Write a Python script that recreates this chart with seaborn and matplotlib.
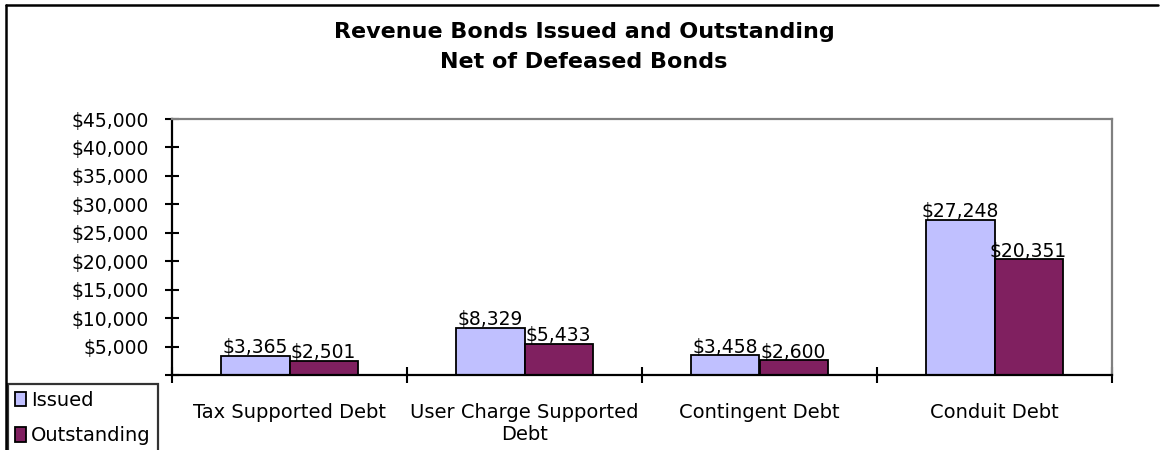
import pandas as pd
import numpy as np
import matplotlib.pyplot as plt
import seaborn as sns
from matplotlib.lines import Line2D
from matplotlib.ticker import FuncFormatter, FixedLocator

# data
categories = ['Tax Supported Debt', 'User Charge Supported\nDebt',
              'Contingent Debt', 'Conduit Debt']
issued = [3365, 8329, 3458, 27248]
outstanding = [2501, 5433, 2600, 20351]
series = ['Issued', 'Outstanding']
colors = ['#C0C0FF', '#802060']

# long table for seaborn
df = pd.DataFrame({
    'category': categories * 2,
    'value': issued + outstanding,
    'series': [series[0]] * len(categories) + [series[1]] * len(categories),
})

sns.set_style('white')
plt.rcParams['font.family'] = ['DejaVu Sans']
plt.rcParams['text.color'] = 'black'
plt.rcParams['xtick.color'] = 'black'
plt.rcParams['ytick.color'] = 'black'

fig = plt.figure(figsize=(11.6, 4.5), dpi=100)
ax = fig.add_axes([172 / 1160, 1 - 375 / 450, 940 / 1160, 256 / 450])

sns.barplot(ax=ax, data=df, x='category', y='value', hue='series',
            order=categories, hue_order=series, palette=colors,
            saturation=1, width=0.58, edgecolor='black', linewidth=1.3,
            errorbar=None)

# value labels on the bars
for cont in ax.containers:
    ax.bar_label(cont, labels=['${:,.0f}'.format(v) for v in cont.datavalues],
                 padding=-1, fontsize=13.5, color='black')

ax.set_ylim(0, 45000)
ax.set_xlim(-0.5, 3.5)
ax.set_yticks(np.arange(0, 45001, 5000))
ax.yaxis.set_major_formatter(FuncFormatter(lambda v, p: '' if v == 0 else '${:,.0f}'.format(v)))
ax.tick_params(axis='y', direction='inout', length=10, width=1.5,
               labelsize=13.5, pad=12, left=True, colors='black')
ax.tick_params(axis='x', which='major', length=0, labelsize=14, pad=20,
               colors='black')
ax.xaxis.set_minor_locator(FixedLocator(np.arange(-0.5, 4, 1)))
ax.tick_params(axis='x', which='minor', direction='inout', length=12,
               width=1.5, bottom=True, colors='black')
ax.set_xlabel('')
ax.set_ylabel('')

for s in ['left', 'bottom']:
    ax.spines[s].set_color('black')
    ax.spines[s].set_linewidth(1.6)
for s in ['top', 'right']:
    ax.spines[s].set_color('#808080')
    ax.spines[s].set_linewidth(1.6)

# legend at the lower left corner of the figure
handles, labels = ax.get_legend_handles_labels()
ax.get_legend().remove()
leg = fig.legend(handles, labels, loc='upper left',
                 bbox_to_anchor=(8 / 1160, 1 - 384 / 450),
                 fontsize=14, frameon=True, fancybox=False,
                 edgecolor='black', handlelength=0.55, handleheight=0.75,
                 handletextpad=0.3, labelspacing=0.85, borderaxespad=0,
                 borderpad=0.35)
leg.get_frame().set_linewidth(1.6)
for t in leg.get_texts():
    t.set_color('black')

# title
fig.text(584 / 1160, 1 - 47 / 450,
         'Revenue Bonds Issued and Outstanding\nNet of Defeased Bonds',
         ha='center', va='center', fontsize=16, fontweight='bold',
         linespacing=1.65, color='black')

# outer frame (top and left)
fig.add_artist(Line2D([6 / 1160, 1158 / 1160], [1 - 5 / 450, 1 - 5 / 450],
                      transform=fig.transFigure, color='black', lw=1.8))
fig.add_artist(Line2D([6 / 1160, 6 / 1160], [0, 1 - 5 / 450],
                      transform=fig.transFigure, color='black', lw=1.8))

plt.savefig('out.png', dpi=100)
